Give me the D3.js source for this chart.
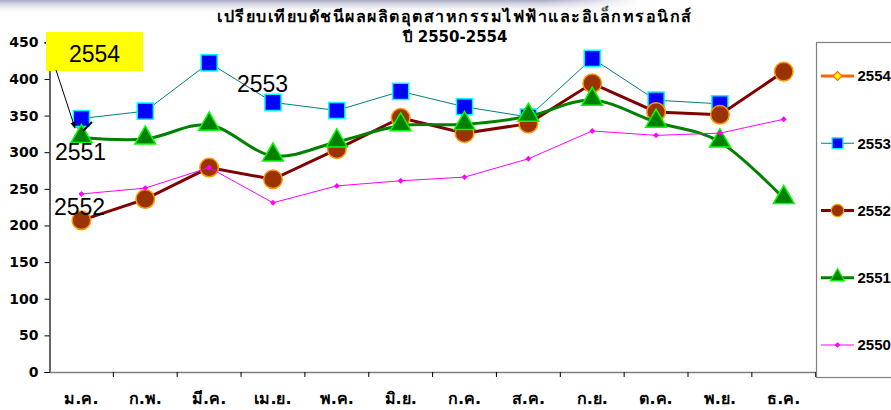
<!DOCTYPE html>
<html>
<head>
<meta charset="utf-8">
<script src="https://cdn.jsdelivr.net/npm/d3@7"></script>
<style>
  body { margin: 0; background: #fff; }
  svg { display: block; }
</style>
</head>
<body>
<div id="chart"></div>
<script>
let width = 891
let height = 410

// data
let months = ["ม.ค.", "ก.พ.", "มี.ค.", "เม.ย.", "พ.ค.", "มิ.ย.", "ก.ค.", "ส.ค.", "ก.ย.", "ต.ค.", "พ.ย.", "ธ.ค."]
let years = ["2554", "2553", "2552", "2551", "2550"]
let v2554 = [337]
let v2553 = [346, 356, 422, 368, 357, 383, 362, 348, 428, 371, 366]
let v2552 = [207, 236, 279, 263, 304, 347, 326, 339, 394, 355, 351, 410]
let v2551 = [320, 318, 337, 295, 314, 336, 338, 349, 371, 341, 314, 237]
let v2550 = [243, 251, 279, 231, 254, 261, 266, 291, 329, 323, 326, 345]
let yTicks = [0, 50, 100, 150, 200, 250, 300, 350, 400, 450]

let font = "Tahoma, 'DejaVu Sans', 'Noto Sans', sans-serif"

let series = [
  { name: "2554", values: v2554, line: "#ff6600", lw: 3, marker: "diamond", fill: "#ffff00", stroke: "#ff6600", size: 110, curve: d3.curveLinear },
  { name: "2553", values: v2553, line: "#008080", lw: 1, marker: "square", fill: "#0000ff", stroke: "#00ffff", size: 260, curve: d3.curveLinear },
  { name: "2552", values: v2552, line: "#800000", lw: 3, marker: "circle", fill: "#993300", stroke: "#ff9900", size: 270, curve: d3.curveLinear },
  { name: "2551", values: v2551, line: "#008000", lw: 3, marker: "triangle", fill: "#008000", stroke: "#00ff00", size: 190, curve: d3.curveCatmullRom.alpha(0) },
  { name: "2550", values: v2550, line: "#ff00ff", lw: 1, marker: "diamond", fill: "#ff00ff", stroke: "#ff00ff", size: 22, curve: d3.curveLinear }
]

let symbolType = {
  diamond: d3.symbolDiamond2,
  square: d3.symbolSquare,
  circle: d3.symbolCircle,
  triangle: d3.symbolTriangle
}

let svg = d3.select("#chart")
  .append("svg")
  .attr("width", width)
  .attr("height", height)

// faint band across the top
let defs = svg.append("defs")
let gv = defs.append("linearGradient").attr("id", "topband").attr("x1", 0).attr("y1", 0).attr("x2", 0).attr("y2", 1)
gv.append("stop").attr("offset", "0%").attr("stop-color", "#a9a9c6")
gv.append("stop").attr("offset", "100%").attr("stop-color", "#ffffff").attr("stop-opacity", 0)
let gh = defs.append("linearGradient").attr("id", "topfade").attr("x1", 0).attr("y1", 0).attr("x2", 1).attr("y2", 0)
gh.append("stop").attr("offset", "85%").attr("stop-color", "#fff").attr("stop-opacity", 1)
gh.append("stop").attr("offset", "100%").attr("stop-color", "#fff").attr("stop-opacity", 0)
let mask = defs.append("mask").attr("id", "bandmask")
mask.append("rect").attr("x", 0).attr("y", 0).attr("width", 640).attr("height", 14).attr("fill", "url(#topfade)")
svg.append("rect")
  .attr("x", 0).attr("y", 0).attr("width", 640).attr("height", 14)
  .attr("fill", "url(#topband)")
  .attr("mask", "url(#bandmask)")

let x = d3.scaleBand()
  .domain(months)
  .range([49.5, 815.7])

let y = d3.scaleLinear()
  .domain([0, 450])
  .range([372, 42.3])

// title
svg.append("text")
  .attr("x", 455).attr("y", 22)
  .attr("text-anchor", "middle")
  .style("font-family", font)
  .style("font-weight", "bold")
  .style("font-size", "16px")
  .style("letter-spacing", "1.5px")
  .text("เปรียบเทียบดัชนีผลผลิตอุตสาหกรรมไฟฟ้าและอิเล็กทรอนิกส์")
svg.append("text")
  .attr("x", 455).attr("y", 42)
  .attr("text-anchor", "middle")
  .style("font-family", font)
  .style("font-weight", "bold")
  .style("font-size", "15px")
  .text("ปี 2550-2554")

// axes
let yAxis = svg.append("g")
  .attr("transform", "translate(49.5,0)")
  .call(d3.axisLeft(y).tickValues(yTicks).tickSize(5).tickPadding(6))
let xAxis = svg.append("g")
  .attr("transform", "translate(0,372)")
  .call(d3.axisBottom(x).tickSize(0).tickPadding(21))

yAxis.select(".domain").attr("stroke", "#000").attr("stroke-width", 1.2)
yAxis.selectAll(".tick line").attr("stroke", "#000")
yAxis.selectAll("text")
  .style("font-family", font).style("font-weight", "bold").style("font-size", "14px").attr("fill", "#000")

xAxis.select(".domain").attr("stroke", "#7f7f7f").attr("stroke-width", 1.5)
xAxis.selectAll("text")
  .style("font-family", font).style("font-weight", "bold").style("font-size", "16px").attr("fill", "#000")

// tick marks between categories
xAxis.selectAll(".sep")
  .data(months.slice(1).concat(["end"]))
  .enter()
  .append("line")
  .attr("x1", (d, i) => x(months[i]) + x.bandwidth())
  .attr("x2", (d, i) => x(months[i]) + x.bandwidth())
  .attr("y1", 0).attr("y2", 5)
  .attr("stroke", "#000")

// series
let cx = (d, i) => x(months[i]) + x.bandwidth() / 2

series.forEach(function(s) {
  let line = d3.line()
    .x(cx)
    .y(d => y(d))
    .curve(s.curve)

  svg.append("path")
    .datum(s.values)
    .attr("d", line)
    .attr("fill", "none")
    .attr("stroke", s.line)
    .attr("stroke-width", s.lw)

  svg.append("g")
    .selectAll("path")
    .data(s.values)
    .enter()
    .append("path")
    .attr("transform", (d, i) => "translate(" + cx(d, i) + "," + (y(d) + (s.marker == "triangle" ? -1 : 0)) + ")")
    .attr("d", d3.symbol().type(symbolType[s.marker]).size(s.size))
    .attr("fill", s.fill)
    .attr("stroke", s.stroke)
    .attr("stroke-width", s.marker == "diamond" && s.name == "2550" ? 0 : 1.5)
})

// annotations
let note = svg.append("g").style("font-family", "Arial, 'Liberation Sans', sans-serif")
note.append("rect")
  .attr("x", 46).attr("y", 32).attr("width", 97).attr("height", 39)
  .attr("fill", "#ffff00")
note.append("text").attr("x", 94.5).attr("y", 62).attr("text-anchor", "middle")
  .style("font-size", "23px").text("2554")

defs.append("marker")
  .attr("id", "arrow")
  .attr("viewBox", "0 0 10 10")
  .attr("refX", 9).attr("refY", 5)
  .attr("markerWidth", 7).attr("markerHeight", 7)
  .attr("orient", "auto")
  .append("path").attr("d", "M0,1 L10,5 L0,9 Z").attr("fill", "#000")

note.append("line")
  .attr("x1", 56).attr("y1", 70)
  .attr("x2", 75).attr("y2", 128)
  .attr("stroke", "#000").attr("stroke-width", 1)
  .attr("marker-end", "url(#arrow)")
note.append("line")
  .attr("x1", 83).attr("y1", 131)
  .attr("x2", 92).attr("y2", 122)
  .attr("stroke", "#000").attr("stroke-width", 2)

note.append("text").attr("x", 237).attr("y", 92).style("font-size", "23px").text("2553")
note.append("text").attr("x", 55).attr("y", 160).style("font-size", "23px").text("2551")
note.append("text").attr("x", 54).attr("y", 215).style("font-size", "23px").text("2552")

// legend
let legend = svg.append("g")
legend.append("rect")
  .attr("x", 816.5).attr("y", 42.5).attr("width", 100).attr("height", 335)
  .attr("fill", "#fff").attr("stroke", "#808080").attr("stroke-width", 1.2)

let ly = d3.scalePoint().domain(years).range([76, 345])

series.forEach(function(s) {
  let g = legend.append("g").attr("transform", "translate(0," + ly(s.name) + ")")
  g.append("line")
    .attr("x1", 821).attr("x2", 854).attr("y1", 0).attr("y2", 0)
    .attr("stroke", s.line).attr("stroke-width", s.lw)
  g.append("path")
    .attr("transform", "translate(837.5," + (s.marker == "triangle" ? -1 : 0) + ")")
    .attr("d", d3.symbol().type(symbolType[s.marker]).size(s.size * 0.45))
    .attr("fill", s.fill)
    .attr("stroke", s.stroke)
    .attr("stroke-width", 1.2)
  g.append("text")
    .attr("x", 857.5).attr("y", 0).attr("dy", "0.36em")
    .style("font-family", "'Liberation Sans', Arial, sans-serif").style("font-weight", "bold").style("font-size", "15px")
    .text(s.name)
})
</script>
</body>
</html>
